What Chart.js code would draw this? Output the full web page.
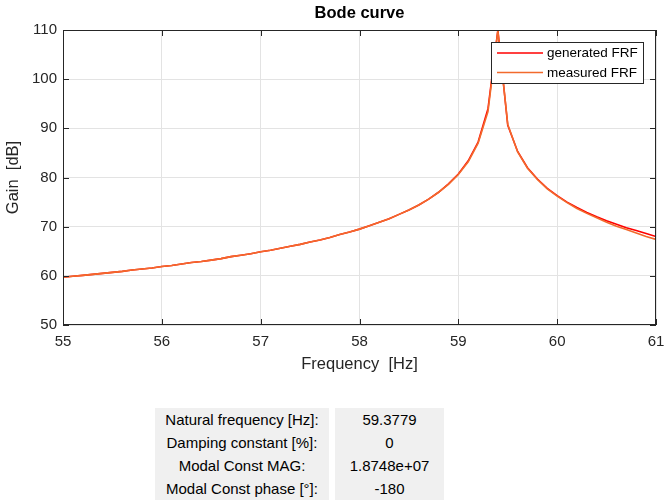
<!DOCTYPE html>
<html>
<head>
<meta charset="utf-8">
<script src="https://cdn.jsdelivr.net/npm/chart.js@4/dist/chart.umd.min.js"></script>
<style>
  body { margin: 0; background: #fff; font-family: "Liberation Sans", Arial, Helvetica, sans-serif; }
  #wrap { position: relative; width: 664px; height: 501px; }
  canvas { position: absolute; left: 0; top: 0; }
  .cell { position: absolute; top: 408px; height: 92px; background: #f0f0f0; color: #000; font-size: 15px; }
  .cell div { height: 23px; line-height: 23px; text-align: center; white-space: nowrap; }
</style>
</head>
<body>
<div id="wrap">
  <canvas id="bode" width="664" height="501"></canvas>
  <div class="cell" id="names" style="left:155px; width:174px;"></div>
  <div class="cell" id="values" style="left:335px; width:109px;"></div>
</div>
<script>
'use strict';

// frequency axis samples [Hz]
const freqs = [
  55.0, 55.1, 55.2, 55.3, 55.4, 55.5, 55.6, 55.7, 55.8, 55.9,
  56.0, 56.1, 56.2, 56.3, 56.4, 56.5, 56.6, 56.7, 56.8, 56.9,
  57.0, 57.1, 57.2, 57.3, 57.4, 57.5, 57.6, 57.7, 57.8, 57.9,
  58.0, 58.1, 58.2, 58.3, 58.4, 58.5, 58.6, 58.7, 58.8, 58.9,
  59.0, 59.1, 59.2, 59.3, 59.4, 59.5, 59.6, 59.7, 59.8, 59.9,
  60.0, 60.1, 60.2, 60.3, 60.4, 60.5, 60.6, 60.7, 60.8, 60.9,
  61.0
];

// gain [dB]
const generatedGain = [
  59.7, 59.9, 60.1, 60.3, 60.5, 60.7, 60.9, 61.2, 61.4, 61.6,
  61.9, 62.1, 62.4, 62.7, 62.9, 63.2, 63.5, 63.9, 64.2, 64.5,
  64.9, 65.2, 65.6, 66.0, 66.4, 66.9, 67.3, 67.8, 68.4, 68.9,
  69.5, 70.2, 70.9, 71.6, 72.5, 73.4, 74.4, 75.6, 77.0, 78.7,
  80.7, 83.4, 87.2, 94.0, 110.0, 90.6, 85.3, 82.0, 79.7, 77.8,
  76.3, 75.0, 73.9, 72.9, 72.0, 71.2, 70.5, 69.8, 69.2, 68.6,
  68.0
];

const measuredGain = [
  59.7, 59.9, 60.1, 60.3, 60.5, 60.7, 60.9, 61.2, 61.4, 61.6,
  61.9, 62.1, 62.4, 62.7, 62.9, 63.2, 63.5, 63.9, 64.2, 64.5,
  64.9, 65.2, 65.6, 66.0, 66.4, 66.9, 67.3, 67.8, 68.4, 68.9,
  69.5, 70.2, 70.9, 71.6, 72.5, 73.4, 74.4, 75.6, 77.0, 78.6,
  80.6, 83.2, 87.0, 93.4, 109.8, 90.8, 85.2, 81.9, 79.6, 77.7,
  76.2, 74.9, 73.7, 72.7, 71.8, 70.9, 70.1, 69.4, 68.7, 68.0,
  67.4
];

const seriesLabels = ['generated FRF', 'measured FRF'];
const seriesColors = ['#ff0000', '#f26a2c'];

const tableNames = ['Natural frequency [Hz]:', 'Damping constant [%]:', 'Modal Const MAG:', 'Modal Const phase [°]:'];
const tableValues = ['59.3779', '0', '1.8748e+07', '-180'];

const FONT = '"Liberation Sans", Arial, Helvetica, sans-serif';
const AXIS_COLOR = '#262626';

function toPoints(xs, ys) {
  return xs.map((x, i) => ({ x: x, y: ys[i] }));
}

// box around the axes, inward ticks on all sides, and the legend
const framePlugin = {
  id: 'frame',
  afterDraw(chart) {
    const { ctx, chartArea: a, scales } = chart;
    const tick = 6;
    ctx.save();
    ctx.strokeStyle = AXIS_COLOR;
    ctx.lineWidth = 1;
    ctx.strokeRect(Math.round(a.left) + 0.5, Math.round(a.top) + 0.5,
      Math.round(a.right - a.left) - 1, Math.round(a.bottom - a.top) - 1);
    ctx.beginPath();
    scales.x.ticks.forEach(t => {
      const px = Math.round(scales.x.getPixelForValue(t.value)) + 0.5;
      ctx.moveTo(px, a.bottom); ctx.lineTo(px, a.bottom - tick);
      ctx.moveTo(px, a.top); ctx.lineTo(px, a.top + tick);
    });
    scales.y.ticks.forEach(t => {
      const py = Math.round(scales.y.getPixelForValue(t.value)) + 0.5;
      ctx.moveTo(a.left, py); ctx.lineTo(a.left + tick, py);
      ctx.moveTo(a.right, py); ctx.lineTo(a.right - tick, py);
    });
    ctx.stroke();

    // legend, top right inside the axes
    const lx = 491.5, ly = 42.5, lw = 152, lh = 41;
    ctx.fillStyle = '#fff';
    ctx.fillRect(lx, ly, lw, lh);
    ctx.strokeStyle = AXIS_COLOR;
    ctx.strokeRect(lx, ly, lw, lh);
    ctx.font = '13.5px ' + FONT;
    ctx.textBaseline = 'middle';
    chart.data.datasets.forEach((ds, i) => {
      const yy = 53 + i * 19.5;
      ctx.strokeStyle = ds.borderColor;
      ctx.lineWidth = 1.5;
      ctx.beginPath();
      ctx.moveTo(497, yy); ctx.lineTo(543, yy);
      ctx.stroke();
      ctx.fillStyle = '#000';
      ctx.fillText(ds.label, 547, yy + 0.5);
    });
    ctx.restore();
  }
};

const ctx = document.getElementById('bode').getContext('2d');

new Chart(ctx, {
  type: 'line',
  data: {
    datasets: [{
      label: seriesLabels[0],
      data: toPoints(freqs, generatedGain),
      borderColor: seriesColors[0],
      borderWidth: 1.6,
      pointRadius: 0,
      tension: 0,
      order: 2,
    }, {
      label: seriesLabels[1],
      data: toPoints(freqs, measuredGain),
      borderColor: seriesColors[1],
      borderWidth: 1.6,
      pointRadius: 0,
      tension: 0,
      order: 1,
    }]
  },
  options: {
    responsive: false,
    animation: false,
    layout: {
      padding: { left: 0, right: 8, top: 0, bottom: 126 }
    },
    plugins: {
      legend: { display: false },
      tooltip: { enabled: false },
      title: {
        display: true,
        fullSize: false,
        text: 'Bode curve',
        color: '#000',
        font: { family: FONT, size: 16.5, weight: 'bold', lineHeight: 1.2 },
        padding: { top: 4, bottom: 6.2 },
      },
    },
    scales: {
      x: {
        type: 'linear',
        min: 55,
        max: 61,
        afterFit: (s) => { s.height = 50; s.paddingLeft = 0; s.paddingRight = 0; },
        ticks: {
          stepSize: 1,
          color: AXIS_COLOR,
          padding: 8,
          maxRotation: 0,
          font: { family: FONT, size: 15 },
        },
        grid: {
          color: '#e3e3e3',
          drawTicks: false,
        },
        border: { display: false },
        title: {
          display: true,
          text: 'Frequency  [Hz]',
          color: AXIS_COLOR,
          font: { family: FONT, size: 16.5, lineHeight: 1.2 },
          padding: { top: 0, bottom: 1 },
        },
      },
      y: {
        min: 50,
        max: 110,
        afterFit: (s) => { s.width = 63; },
        ticks: {
          stepSize: 10,
          color: AXIS_COLOR,
          padding: 6,
          font: { family: FONT, size: 15 },
        },
        grid: {
          color: '#e3e3e3',
          drawTicks: false,
        },
        border: { display: false },
        title: {
          display: true,
          text: 'Gain  [dB]',
          color: AXIS_COLOR,
          font: { family: FONT, size: 16.5, lineHeight: 1.2 },
          padding: { top: 4, bottom: 0 },
        },
      }
    }
  },
  plugins: [framePlugin]
});

// parameter table under the plot
const names = document.getElementById('names');
const values = document.getElementById('values');
tableNames.forEach((n, i) => {
  const a = document.createElement('div');
  a.textContent = n;
  names.appendChild(a);
  const b = document.createElement('div');
  b.textContent = tableValues[i];
  values.appendChild(b);
});
</script>
</body>
</html>
